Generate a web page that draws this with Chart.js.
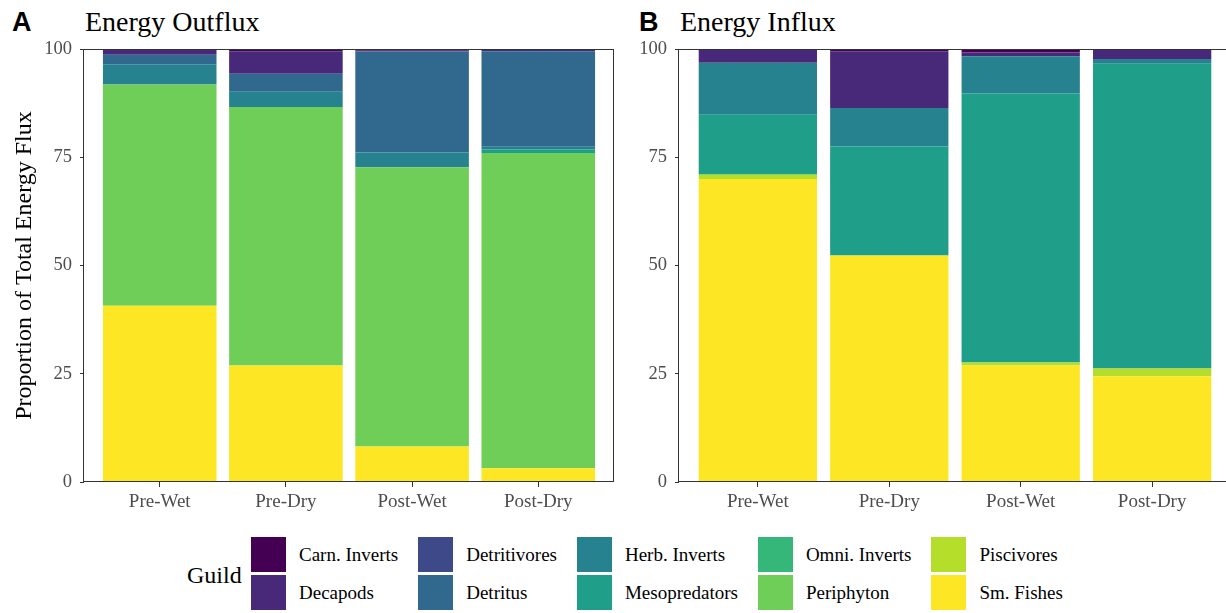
<!DOCTYPE html>
<html>
<head>
<meta charset="utf-8">
<script src="https://cdn.jsdelivr.net/npm/chart.js@4.4.1/dist/chart.umd.min.js"></script>
<style>
  html, body { margin: 0; padding: 0; background: #fff; }
  body { width: 1226px; height: 613px; overflow: hidden; position: relative; font-family: 'Liberation Serif', 'Times New Roman', serif; }
  .panel { position: absolute; top: 0; }
  .tag { position: absolute; font-family: 'Liberation Sans', Arial, sans-serif; font-weight: bold; font-size: 27px; line-height: 27px; color: #000; }
  .ttl { position: absolute; font-size: 28px; line-height: 28px; color: #000; white-space: nowrap; }
  #guildTitle { position: absolute; left: 187px; top: 563px; font-size: 24px; line-height: 24px; }
  #legend { position: absolute; left: 251px; top: 537px; display: grid; grid-template-rows: 35px 35px; grid-auto-flow: column; grid-auto-columns: auto; row-gap: 3px; column-gap: 20px; }
  .item { display: flex; align-items: center; font-size: 19px; white-space: nowrap; }
  .key { width: 35px; height: 35px; margin-right: 13px; flex: none; }
</style>
</head>
<body>
<div class="tag" style="left:12px; top:9px;">A</div>
<div class="ttl" style="left:85px; top:8px;">Energy Outflux</div>
<div class="tag" style="left:639px; top:9px;">B</div>
<div class="ttl" style="left:680px; top:8px;">Energy Influx</div>

<div class="panel" style="left:0px;"><canvas id="outflux" width="616" height="530"></canvas></div>
<div class="panel" style="left:600px;"><canvas id="influx" width="640" height="530"></canvas></div>

<div id="guildTitle">Guild</div>
<div id="legend"></div>

<script>
// Seasons on the x axis
const seasons = ['Pre-Wet', 'Pre-Dry', 'Post-Wet', 'Post-Dry'];

// Guilds, in legend order (top of each stack first)
const guilds = ['Carn. Inverts', 'Decapods', 'Detritivores', 'Detritus', 'Herb. Inverts',
                'Mesopredators', 'Omni. Inverts', 'Periphyton', 'Piscivores', 'Sm. Fishes'];

// Viridis palette, one colour per guild
const guildColors = ['#440154', '#482878', '#3e4989', '#31688e', '#26828e',
                     '#1f9e89', '#35b779', '#6ece58', '#b5de2b', '#fde725'];

// Proportion of total energy outflux (%) per guild, one array per season
const outPreWet  = [0.2, 1.1, 0, 2.2, 4.7, 0, 0, 51.1, 0, 40.7];
const outPreDry  = [0.5, 5.2, 0, 4.2, 3.5, 0, 0, 59.7, 0, 26.9];
const outPostWet = [0.4, 0.2, 0, 23.3, 3.4, 0, 0, 64.5, 0, 8.2];
const outPostDry = [0.1, 0.4, 0, 22.1, 0.6, 0.8, 0, 72.8, 0, 3.2];

// Proportion of total energy influx (%) per guild, one array per season
const inPreWet  = [0.2, 3.0, 0, 0, 12.0, 13.7, 0, 0.2, 0.9, 70.0];
const inPreDry  = [0.5, 13.1, 0, 0, 8.9, 25.2, 0, 0, 0, 52.3];
const inPostWet = [0.8, 0.9, 0, 0, 8.6, 62.1, 0, 0, 0.7, 26.9];
const inPostDry = [0, 2.3, 0, 0, 1.1, 70.4, 0, 0, 1.8, 24.4];

// Y axis ticks
const yTicks = [0, 25, 50, 75, 100];

const SERIF = "'Liberation Serif', 'Times New Roman', serif";
const AXIS_GREY = '#4d4d4d';
const LINE_GREY = '#333333';

// Build stacked datasets: Chart.js stacks the first dataset at the bottom,
// so the guild list is walked in reverse.
function buildDatasets(bySeason) {
  const out = [];
  for (let g = guilds.length - 1; g >= 0; g--) {
    out.push({
      label: guilds[g],
      data: seasons.map((s, i) => ({ x: i + 1, y: bySeason[i][g] })),
      backgroundColor: guildColors[g],
      borderWidth: 0,
      barPercentage: 0.9,
      categoryPercentage: 1.0
    });
  }
  return out;
}

// Full panel border drawn over the bars
const panelBorder = {
  id: 'panelBorder',
  afterDatasetsDraw(chart) {
    const a = chart.chartArea, ctx = chart.ctx;
    ctx.save();
    ctx.strokeStyle = LINE_GREY;
    ctx.lineWidth = 1;
    const l = Math.round(a.left) - 0.5, t = Math.round(a.top) + 0.5;
    const r = Math.round(a.right) - 0.5, b = Math.round(a.bottom) - 0.5;
    ctx.strokeRect(l, t, r - l, b - t);
    ctx.restore();
  }
};

function makeChart(id, bySeason, yWidth, showTitle, padRight) {
  return new Chart(document.getElementById(id), {
    type: 'bar',
    data: { datasets: buildDatasets(bySeason) },
    plugins: [panelBorder],
    options: {
      responsive: false,
      animation: false,
      devicePixelRatio: 1,
      layout: { padding: { top: 49, right: padRight, bottom: 0, left: 0 } },
      plugins: { legend: { display: false }, tooltip: { enabled: false }, title: { display: false } },
      scales: {
        x: {
          type: 'linear',
          stacked: true,
          min: 0.4,
          max: 4.6,
          offset: false,
          afterFit: s => { s.height = 48; },
          afterBuildTicks: s => { s.ticks = seasons.map((_, i) => ({ value: i + 1 })); },
          border: { display: false },
          grid: { offset: false, drawOnChartArea: false, drawTicks: true, tickLength: 5, tickColor: LINE_GREY, lineWidth: 1 },
          ticks: {
            autoSkip: false,
            maxRotation: 0,
            padding: 4,
            color: AXIS_GREY,
            font: { family: SERIF, size: 19 },
            callback: v => seasons[Math.round(v) - 1]
          }
        },
        y: {
          stacked: true,
          min: yTicks[0],
          max: yTicks[yTicks.length - 1],
          afterFit: s => { s.width = yWidth; },
          afterBuildTicks: s => { s.ticks = yTicks.map(v => ({ value: v })); },
          border: { display: false },
          grid: { drawOnChartArea: false, drawTicks: true, tickLength: 4, tickColor: LINE_GREY, lineWidth: 1 },
          ticks: { padding: 8, color: AXIS_GREY, font: { family: SERIF, size: 18.5 } },
          title: {
            display: showTitle,
            text: 'Proportion of Total Energy Flux',
            color: '#000',
            font: { family: SERIF, size: 24 },
            padding: { top: 10, bottom: 0 }
          }
        }
      }
    }
  });
}

makeChart('outflux', [outPreWet, outPreDry, outPostWet, outPostDry], 84, true, 2);
makeChart('influx', [inPreWet, inPreDry, inPostWet, inPostDry], 79, false, 9);

// Legend, filled column by column (two rows)
const legend = document.getElementById('legend');
guilds.forEach((g, i) => {
  const item = document.createElement('div');
  item.className = 'item';
  const key = document.createElement('span');
  key.className = 'key';
  key.style.background = guildColors[i];
  const lab = document.createElement('span');
  lab.textContent = g;
  item.appendChild(key);
  item.appendChild(lab);
  legend.appendChild(item);
});
</script>
</body>
</html>
